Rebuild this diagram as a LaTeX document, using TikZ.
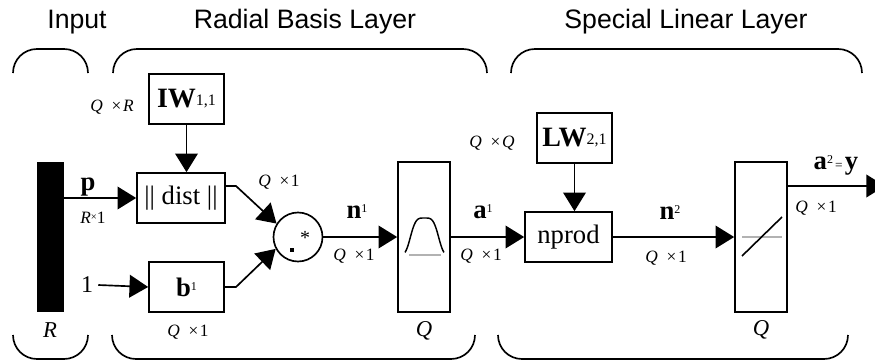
\documentclass[tikz,border=0pt]{standalone}
\usepackage{fontspec}
\setmainfont{Liberation Serif}
\newfontfamily\headfont{Liberation Sans}
\usetikzlibrary{arrows.meta,calc}
\newcommand\mysup[1]{\raisebox{4.5pt}{\fontsize{9}{9}\selectfont\mdseries #1}}
\newcommand\qx[1]{\textit{Q}\hspace{0.5em}×\hspace{0.1em}#1}
\newcommand\topbrk[2]{\draw[brk] (#1,73) .. controls (#1,59.7) and ({#1+10.7},49) .. ({#1+24},49) -- ({#2-24},49) .. controls ({#2-10.7},49) and (#2,59.7) .. (#2,73);}
\newcommand\botbrk[2]{\draw[brk] (#1,335) .. controls (#1,348.3) and ({#1+10.7},359) .. ({#1+24},359) -- ({#2-24},359) .. controls ({#2-10.7},359) and (#2,348.3) .. (#2,335);}
\begin{document}
\begin{tikzpicture}[x=0.75pt,y=-0.75pt,
  blk/.style={draw, line width=1.25pt, inner sep=0pt, font=\fontsize{20}{22}\selectfont},
  arr/.style={-{Triangle[length=14pt,width=17pt]}, line width=1.25pt},
  lbl/.style={inner sep=0pt, font=\fontsize{20}{22}\selectfont\bfseries},
  dim/.style={inner sep=0pt, font=\fontsize{13}{14}\selectfont},
  head/.style={inner sep=0pt, font=\headfont\fontsize{20}{22}\selectfont},
  brk/.style={line width=1.25pt},
  big/.style={inner sep=0pt, font=\fontsize{17}{18}\selectfont\itshape}
]
\useasboundingbox (0,0) rectangle (875,361);

% headings
\node[head] (hin) at (77,22) {Input};
\node[head] (hrb) at (305,22) {Radial Basis Layer};
\node[head] (hsl) at (686,22) {Special Linear Layer};

% brackets
\topbrk{13}{88}
\topbrk{113}{487}
\topbrk{511}{862}
\botbrk{13}{88}
\botbrk{112}{475}
\botbrk{498}{848}

% input bar
\node[fill=black, inner sep=0pt, minimum width=20.25pt, minimum height=112.5pt] (bar) at (50.5,237) {};
\node[big] (Rl) at (50,330) {R};

% blocks
\node[blk, minimum width=56.25pt, minimum height=37.5pt] (IW) at (186.5,99)
  {\fontsize{21}{22}\selectfont\bfseries IW\raisebox{1.5pt}{\fontsize{12}{12}\selectfont\mdseries 1,1}};
\node[blk, minimum width=66pt, minimum height=37.5pt] (dist) at (181,198) {|| dist ||};
\node[blk, minimum width=56.25pt, minimum height=37.5pt] (b) at (186.5,287) {\textbf{b}\mysup{1}};
\node[inner sep=0pt, font=\fontsize{18}{20}\selectfont] (one) at (87,285) {1};
\node[circle, draw, line width=1.25pt, minimum size=36.75pt, inner sep=0pt] (mul) at (298,237) {};
\fill (289.5,247.5) rectangle (293.5,251.5);
\node[inner sep=0pt, font=\fontsize{15}{15}\selectfont] (star) at (305,238) {*};
\node[blk, minimum width=39pt, minimum height=112.5pt] (gauss) at (424,237) {};
\node[blk, minimum width=65.25pt, minimum height=37.5pt] (nprod) at (568.5,237) {nprod};
\node[blk, minimum width=56.25pt, minimum height=37.5pt] (LW) at (574.5,138)
  {\fontsize{21}{22}\selectfont\bfseries LW\raisebox{1.5pt}{\fontsize{12}{12}\selectfont\mdseries 2,1}};
\node[blk, minimum width=39pt, minimum height=112.5pt] (lin) at (761,237) {};

% icons
\draw[gray!60, line width=1.2pt] (409,255) -- (441,255);
\draw[line width=1.1pt] plot[domain=405:444, samples=80, smooth] (\x, {255-37*exp(-((\x-424.5)/15.3)*((\x-424.5)/15.3)*((\x-424.5)/15.3)*((\x-424.5)/15.3))});
\draw[gray!60, line width=1.2pt] (742,237) -- (782,237);
\draw[line width=1.2pt] (742,256) -- (782,217);

% connectors
\coordinate (d1) at (236,186);
\coordinate (b1) at (236,287);
\coordinate (outc) at (885,186);
\draw[arr] (bar.east |- dist.west) -- (dist.west);
\draw[arr] (one.east) ++(5,0) -- (b.west);
\draw[arr] (IW.south) -- (IW.south |- dist.north);
\draw[arr] (dist.east |- d1) -- (d1) -- (mul.148);
\draw[arr] (b.east) -- (b1) -- (mul.208);
\draw[arr] (mul.east) -- (gauss.west);
\draw[arr] (gauss.east) -- (nprod.west);
\draw[arr] (LW.south) -- (LW.south |- nprod.north);
\draw[arr] (nprod.east) -- (lin.west);
\draw[arr] (lin.east |- outc) -- (outc);

% labels
\node[dim] (qxr) at (112,107) {\qx{\textit{R}}};
\node[lbl, anchor=base] (pl) at (88,190) {p};
\node[dim] (rx1) at (93,218) {\textit{R}\raisebox{2.5pt}{\fontsize{8}{8}\selectfont ×}1};
\node[dim] (qb) at (188,332) {\qx{1}};
\node[dim] (qd) at (279,182) {\qx{1}};
\node[lbl, anchor=base] (n1l) at (357,218) {n\mysup{1}};
\node[dim] (qn1) at (354,256) {\qx{1}};
\node[lbl, anchor=base] (a1l) at (483,218) {a\mysup{1}};
\node[dim] (qa1) at (481,256) {\qx{1}};
\node[dim] (qqq) at (492,143) {\qx{\textit{Q}}};
\node[big] (Qg) at (424,331) {Q};
\node[lbl, anchor=base] (n2l) at (670,219) {n\mysup{2}};
\node[dim] (qn2) at (666,258) {\qx{1}};
\node[big] (Ql) at (761,330) {Q};
\node[lbl, anchor=base] (a2l) at (836,169) {a\mysup{2}{\fontsize{10}{10}\selectfont\mdseries\,=\,}y};
\node[dim] (qo) at (816,208) {\qx{1}};
\end{tikzpicture}
\end{document}
